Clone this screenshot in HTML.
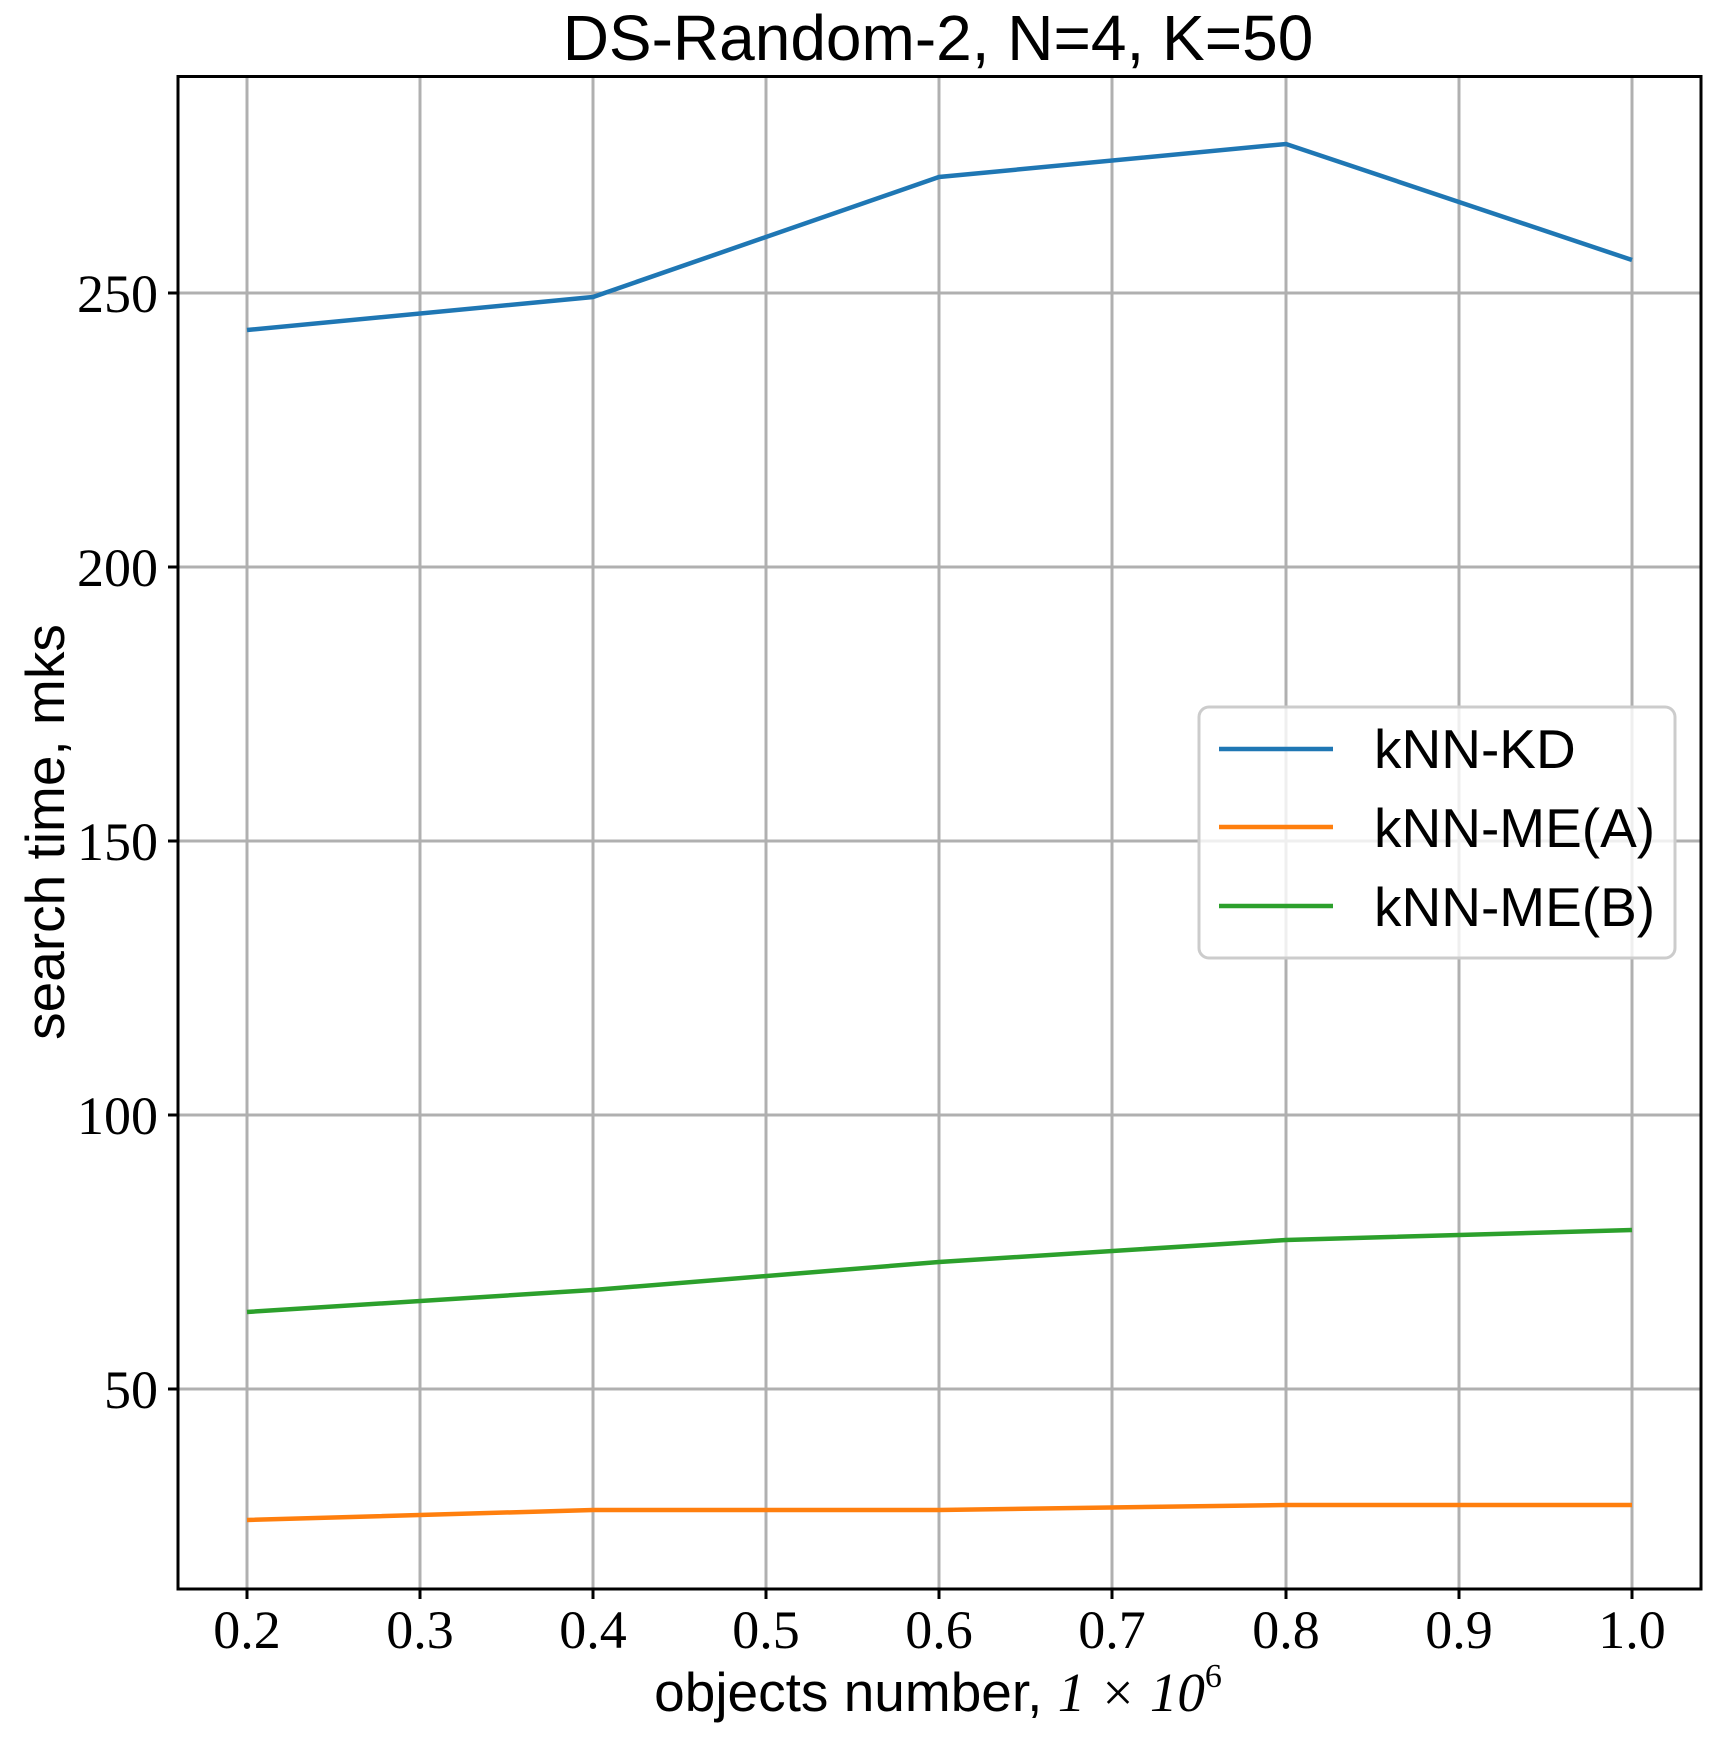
<!DOCTYPE html><html><head><style>body{margin:0;background:#fff}</style></head><body>
<svg width="1735" height="1752" xmlns="http://www.w3.org/2000/svg">
<g stroke="#b0b0b0" stroke-width="3">
<line x1="247" y1="76" x2="247" y2="1589"/><line x1="420" y1="76" x2="420" y2="1589"/><line x1="593" y1="76" x2="593" y2="1589"/><line x1="766" y1="76" x2="766" y2="1589"/><line x1="939" y1="76" x2="939" y2="1589"/><line x1="1112" y1="76" x2="1112" y2="1589"/><line x1="1286" y1="76" x2="1286" y2="1589"/><line x1="1459" y1="76" x2="1459" y2="1589"/><line x1="1632" y1="76" x2="1632" y2="1589"/>
<line x1="178" y1="293" x2="1701" y2="293"/><line x1="178" y1="567" x2="1701" y2="567"/><line x1="178" y1="841" x2="1701" y2="841"/><line x1="178" y1="1115" x2="1701" y2="1115"/><line x1="178" y1="1389" x2="1701" y2="1389"/>
</g>
<g fill="none" stroke-width="4.5">
<polyline stroke="#1f77b4" points="247,330 593,297 939,177 1286,144 1632,260"/>
<polyline stroke="#ff7f0e" points="247,1520 593,1510 939,1510 1286,1505 1632,1505"/>
<polyline stroke="#2ca02c" points="247,1312 593,1290 939,1262 1286,1240 1632,1230"/>
</g>
<rect x="178" y="76.5" width="1523" height="1512.5" fill="none" stroke="#000" stroke-width="3"/>
<g stroke="#000" stroke-width="3">
<line x1="247" y1="1589" x2="247" y2="1599"/><line x1="420" y1="1589" x2="420" y2="1599"/><line x1="593" y1="1589" x2="593" y2="1599"/><line x1="766" y1="1589" x2="766" y2="1599"/><line x1="939" y1="1589" x2="939" y2="1599"/><line x1="1112" y1="1589" x2="1112" y2="1599"/><line x1="1286" y1="1589" x2="1286" y2="1599"/><line x1="1459" y1="1589" x2="1459" y2="1599"/><line x1="1632" y1="1589" x2="1632" y2="1599"/>
<line x1="168" y1="293" x2="178" y2="293"/><line x1="168" y1="567" x2="178" y2="567"/><line x1="168" y1="841" x2="178" y2="841"/><line x1="168" y1="1115" x2="178" y2="1115"/><line x1="168" y1="1389" x2="178" y2="1389"/>
</g>
<g font-family="Liberation Serif, serif" font-size="54" fill="#000">
<g text-anchor="middle">
<text x="247" y="1648">0.2</text><text x="420" y="1648">0.3</text><text x="593" y="1648">0.4</text><text x="766" y="1648">0.5</text><text x="939" y="1648">0.6</text><text x="1112" y="1648">0.7</text><text x="1286" y="1648">0.8</text><text x="1459" y="1648">0.9</text><text x="1632" y="1648">1.0</text>
</g>
<g text-anchor="end">
<text x="158" y="312">250</text><text x="158" y="586">200</text><text x="158" y="860">150</text><text x="158" y="1134">100</text><text x="158" y="1408">50</text>
</g>
</g>
<g font-family="Liberation Sans, sans-serif" font-size="55" fill="#000">
<text x="938" y="60" text-anchor="middle" font-size="64">DS-Random-2, N=4, K=50</text>
<text x="938" y="1711" text-anchor="middle">objects number, <tspan font-family="Liberation Serif, serif" font-style="italic">1 × 10</tspan><tspan font-family="Liberation Serif, serif" font-size="34" dy="-24">6</tspan></text>
<text transform="translate(64,832) rotate(-90)" text-anchor="middle">search time, mks</text>
</g>
<rect x="1199" y="707" width="476" height="251" rx="10" fill="#fff" fill-opacity="0.8" stroke="#ccc" stroke-width="3"/>
<g stroke-width="4.5"><line x1="1219" y1="749" x2="1333" y2="749" stroke="#1f77b4"/><line x1="1219" y1="827" x2="1333" y2="827" stroke="#ff7f0e"/><line x1="1219" y1="906" x2="1333" y2="906" stroke="#2ca02c"/></g>
<g font-family="Liberation Sans, sans-serif" font-size="55" fill="#000">
<text x="1374" y="768">kNN-KD</text><text x="1374" y="847">kNN-ME(A)</text><text x="1374" y="926">kNN-ME(B)</text>
</g>
</svg></body></html>
